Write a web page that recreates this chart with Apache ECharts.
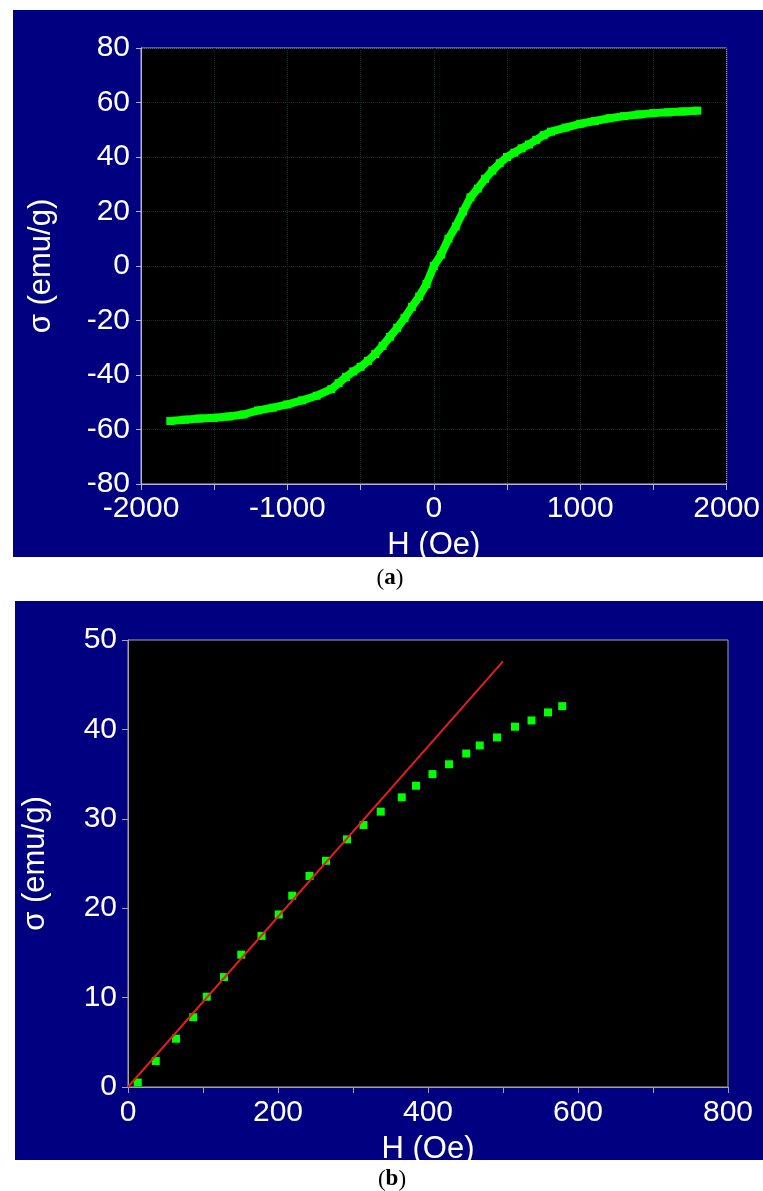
<!DOCTYPE html>
<html>
<head>
<meta charset="utf-8">
<script src="https://cdn.jsdelivr.net/npm/echarts@6/dist/echarts.min.js"></script>
<style>
  html, body { margin: 0; padding: 0; background: #ffffff; }
  #chart { width: 763px; height: 1191px; }
</style>
</head>
<body>
<div id="chart"></div>
<script>
// ---------- Panel (a): full magnetization curve ----------
const H_A = [-1800, -1700, -1600, -1500, -1400, -1300, -1200, -1100, -1000, -900, -800, -700,
  -650, -600, -550, -500, -450, -400, -350, -300, -250, -200, -150, -100, -50,
  0, 50, 100, 150, 200, 250, 300, 350, 400, 450, 500, 550, 600, 650, 700, 750, 800,
  900, 1000, 1100, 1200, 1300, 1400, 1500, 1600, 1700, 1800];
const SIGMA_A = [-56.9, -56.4, -56.0, -55.7, -55.2, -54.5, -53.0, -52.0, -50.8, -49.3, -47.6, -45.2,
  -43.0, -40.7, -38.7, -37.0, -34.8, -32.3, -29.3, -26.0, -22.7, -19.1, -15.0, -11.2, -6.6,
  0.0, 4.2, 10.0, 14.5, 20.0, 25.2, 28.4, 32.0, 35.0, 37.7, 40.0, 41.6, 43.2, 44.6, 46.3, 48.0, 49.3,
  50.8, 52.2, 53.2, 54.2, 55.0, 55.6, 56.1, 56.4, 56.7, 57.0];
const X_RANGE_A = [-2000, 2000, 500];   // min, max, tick step
const Y_RANGE_A = [-80, 80, 20];

// ---------- Panel (b): initial (low-field) magnetization ----------
const H_B = [13, 37, 64, 87, 105, 128, 151, 178, 201, 219, 242, 264, 292, 314, 337, 365, 384,
  406, 428, 451, 469, 492, 516, 538, 560, 579];
const SIGMA_B = [0.5, 2.9, 5.4, 7.8, 10.1, 12.3, 14.8, 16.9, 19.3, 21.4, 23.6, 25.3, 27.7, 29.3, 30.8,
  32.4, 33.7, 35.0, 36.1, 37.3, 38.2, 39.1, 40.3, 41.0, 41.9, 42.6];
const FIT_H = [0, 500];
const FIT_SIGMA = [0, 47.6];
const X_RANGE_B = [0, 800, 100];
const Y_RANGE_B = [0, 50, 10];

const zip = (xs, ys) => xs.map((x, i) => [x, ys[i]]);

const NAVY = '#000080';
const GREEN = '#00ff00';
const FONT = 'Liberation Sans, Arial, sans-serif';
const SERIF = 'Liberation Serif';

const chart = echarts.init(document.getElementById('chart'), null, { renderer: 'canvas' });

function caption(cx, top, letter) {
  return {
    text: '{p|(}{b|' + letter + '}{p|)}',
    left: cx, top: top, textAlign: 'center', padding: 0,
    textStyle: {
      fontSize: 23, fontFamily: SERIF, color: '#000',
      rich: {
        p: { fontSize: 23, fontFamily: SERIF, color: '#000', fontWeight: 'normal' },
        b: { fontSize: 23, fontFamily: SERIF, color: '#000', fontWeight: 'bold' }
      }
    }
  };
}

chart.setOption({
  animation: false,
  backgroundColor: '#ffffff',
  title: [caption(390, 567, 'a'), caption(392, 1168, 'b')],
  graphic: {
    elements: [
      { type: 'rect', z: -10, shape: { x: 13, y: 10, width: 760, height: 547 }, style: { fill: NAVY } },
      { type: 'rect', z: -10, shape: { x: 15, y: 601, width: 760, height: 559 }, style: { fill: NAVY } }
    ]
  },
  grid: [
    { left: 141, top: 48, width: 586, height: 436, show: true, backgroundColor: '#000000',
      borderColor: '#b4b4d4', borderWidth: 1, containLabel: false },
    { left: 128, top: 640, width: 600, height: 447, show: true, backgroundColor: '#000000',
      borderColor: '#a4a4ac', borderWidth: 1, containLabel: false }
  ],
  xAxis: [
    { type: 'value', gridIndex: 0, min: X_RANGE_A[0], max: X_RANGE_A[1], interval: X_RANGE_A[2],
      name: 'H (Oe)', nameLocation: 'middle', nameGap: 46,
      nameTextStyle: { color: '#fff', fontSize: 31, fontFamily: FONT },
      axisLine: { show: true, onZero: false, lineStyle: { color: '#b4b4d4', width: 1 } },
      axisTick: { show: true, inside: false, length: 6, lineStyle: { color: '#b4b4d4' } },
      axisLabel: { color: '#fff', fontSize: 30, fontFamily: FONT, margin: 10,
        formatter: v => (v % 1000 === 0 ? String(v) : '') },
      splitLine: { show: true, lineStyle: { color: '#0c2f2c', type: 'dotted', width: 1 } } },
    { type: 'value', gridIndex: 1, min: X_RANGE_B[0], max: X_RANGE_B[1], interval: X_RANGE_B[2],
      name: 'H (Oe)', nameLocation: 'middle', nameGap: 47,
      nameTextStyle: { color: '#fff', fontSize: 31, fontFamily: FONT },
      axisLine: { show: true, onZero: false, lineStyle: { color: '#a4a4ac', width: 1 } },
      axisTick: { show: true, inside: false, length: 6, lineStyle: { color: '#a4a4ac' } },
      axisLabel: { color: '#fff', fontSize: 30, fontFamily: FONT, margin: 11,
        formatter: v => (v % 200 === 0 ? String(v) : '') },
      splitLine: { show: false } }
  ],
  yAxis: [
    { type: 'value', gridIndex: 0, min: Y_RANGE_A[0], max: Y_RANGE_A[1], interval: Y_RANGE_A[2],
      name: 'σ (emu/g)', nameLocation: 'middle', nameGap: 84,
      nameTextStyle: { color: '#fff', fontSize: 31, fontFamily: FONT },
      axisLine: { show: true, onZero: false, lineStyle: { color: '#b4b4d4', width: 1 } },
      axisTick: { show: true, inside: false, length: 5, lineStyle: { color: '#b4b4d4' } },
      axisLabel: { color: '#fff', fontSize: 30, fontFamily: FONT, margin: 11 },
      splitLine: { show: true, lineStyle: { color: '#0c2f2c', type: 'dotted', width: 1 } } },
    { type: 'value', gridIndex: 1, min: Y_RANGE_B[0], max: Y_RANGE_B[1], interval: Y_RANGE_B[2],
      name: 'σ (emu/g)', nameLocation: 'middle', nameGap: 77,
      nameTextStyle: { color: '#fff', fontSize: 31, fontFamily: FONT },
      axisLine: { show: true, onZero: false, lineStyle: { color: '#a4a4ac', width: 1 } },
      axisTick: { show: true, inside: false, length: 6, lineStyle: { color: '#a4a4ac' } },
      axisLabel: { color: '#fff', fontSize: 30, fontFamily: FONT, margin: 11 },
      splitLine: { show: false } }
  ],
  series: [
    { name: 'σ(H)', type: 'line', xAxisIndex: 0, yAxisIndex: 0, data: zip(H_A, SIGMA_A),
      symbol: 'rect', symbolSize: 8, showSymbol: true,
      lineStyle: { color: GREEN, width: 8 }, itemStyle: { color: GREEN } },
    { name: 'initial', type: 'scatter', xAxisIndex: 1, yAxisIndex: 1, data: zip(H_B, SIGMA_B),
      symbol: 'rect', symbolSize: 8, itemStyle: { color: GREEN, opacity: 1 } },
    { name: 'fit', type: 'line', xAxisIndex: 1, yAxisIndex: 1, data: zip(FIT_H, FIT_SIGMA),
      symbol: 'none', lineStyle: { color: '#e41e1e', width: 2 }, z: 3 }
  ]
});
</script>
</body>
</html>
